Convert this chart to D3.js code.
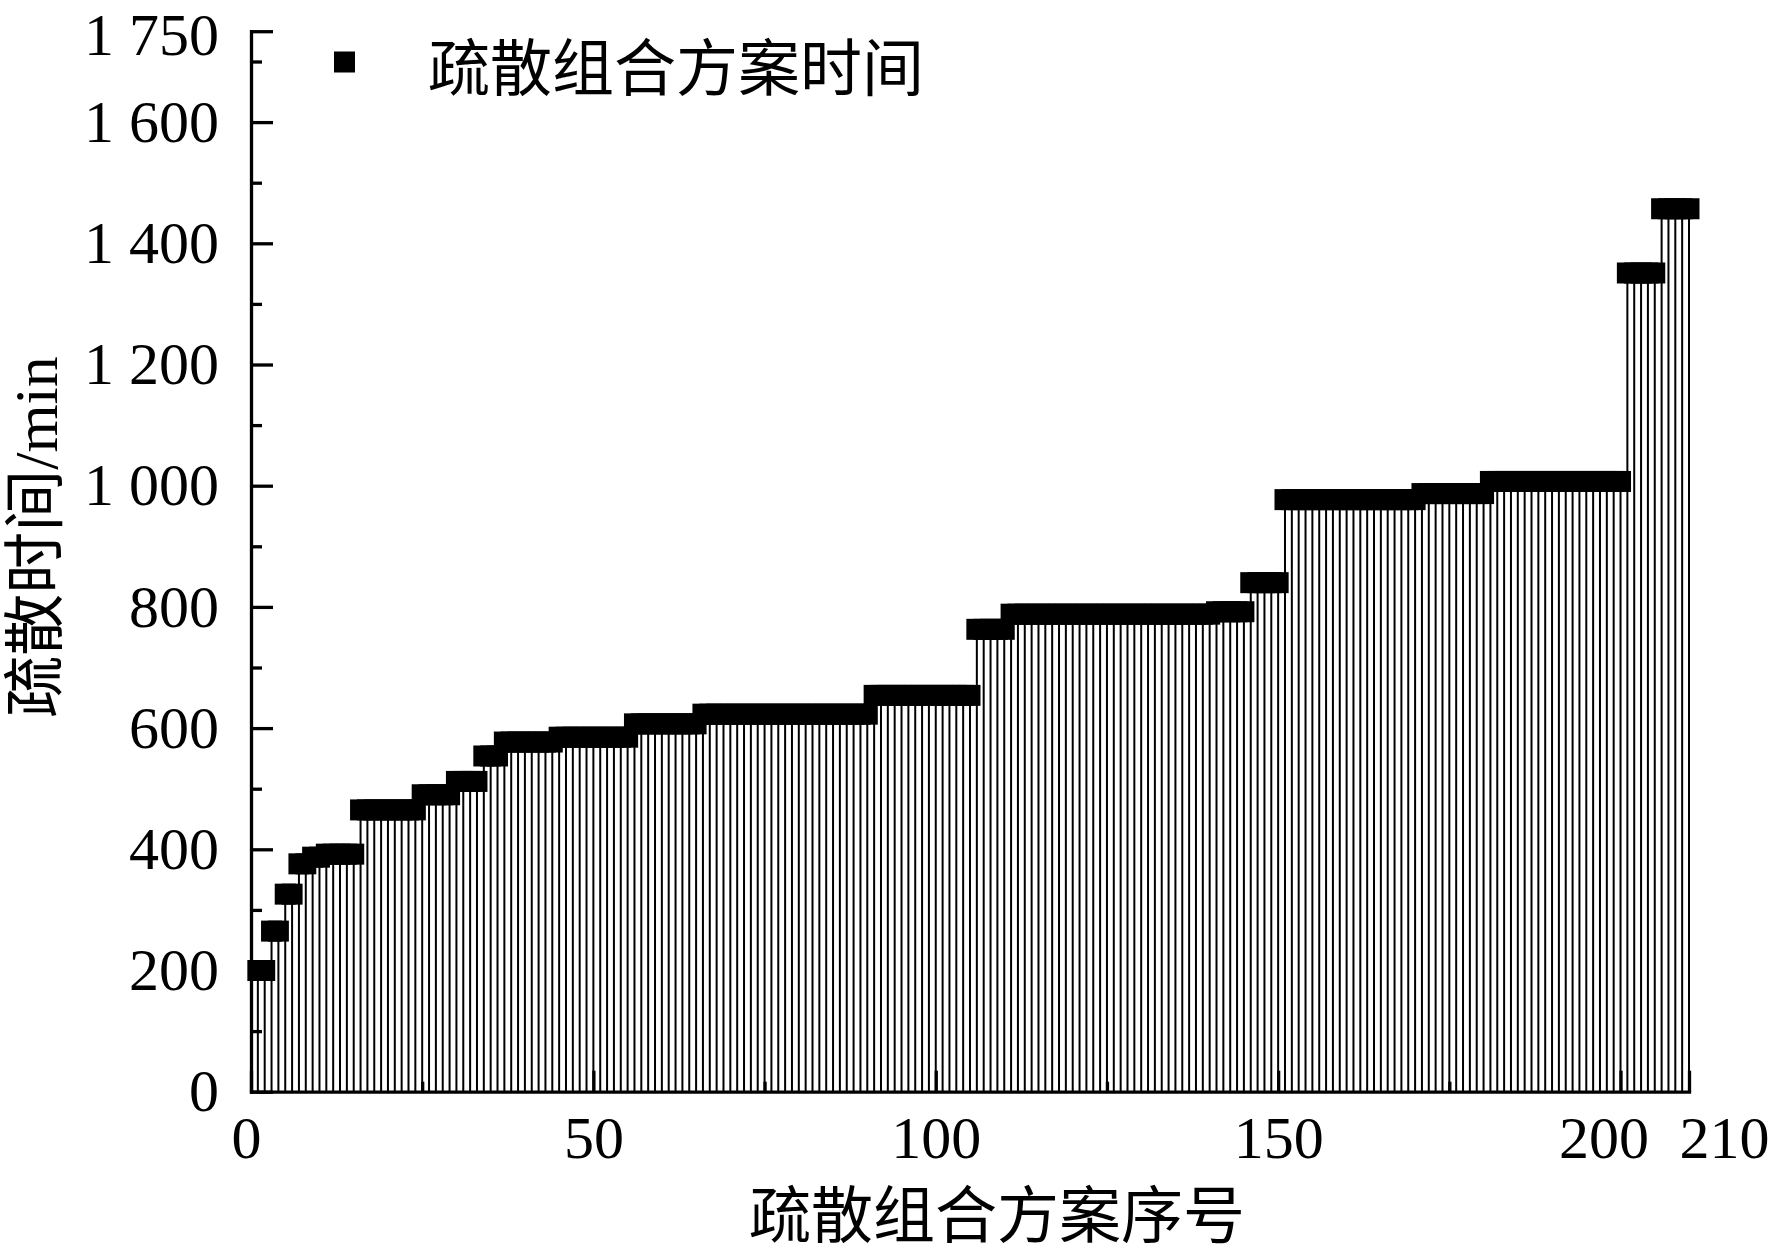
<!DOCTYPE html>
<html>
<head>
<meta charset="utf-8">
<script src="https://cdn.jsdelivr.net/npm/d3@7/dist/d3.min.js"></script>
<style>
  html, body { margin: 0; padding: 0; background: #fff; }
  svg { display: block; }
  text { fill: #000; }
</style>
</head>
<body>
<svg id="chart" width="1772" height="1254"></svg>
<script>
// ---- data ----
const seriesName = "疏散组合方案时间";
const xTitle = "疏散组合方案序号";
const yTitle = "疏散时间/min";

// evacuation time (min) for combination schemes 1..210
const times = [
  200,200,265,265,326,326,376,376,387,387,
  392,392,392,392,392,465,465,465,465,465,
  465,465,465,465,490,490,490,490,490,512,
  512,512,512,554,554,554,577,577,577,577,
  577,577,577,577,585,585,585,585,585,585,
  585,585,585,585,585,607,607,607,607,607,
  607,607,607,607,607,623,623,623,623,623,
  623,623,623,623,623,623,623,623,623,623,
  623,623,623,623,623,623,623,623,623,623,
  654,654,654,654,654,654,654,654,654,654,
  654,654,654,654,654,763,763,763,763,763,
  788,788,788,788,788,788,788,788,788,788,
  788,788,788,788,788,788,788,788,788,788,
  788,788,788,788,788,788,788,788,788,788,
  792,792,792,792,792,840,840,840,840,840,
  977,977,977,977,977,977,977,977,977,977,
  977,977,977,977,977,977,977,977,977,977,
  987,987,987,987,987,987,987,987,987,987,
  1007,1007,1007,1007,1007,1007,1007,1007,1007,1007,
  1007,1007,1007,1007,1007,1007,1007,1007,1007,1007,
  1351,1351,1351,1351,1351,1457,1457,1457,1457,1457
];
const schemeIds = times.map((v, i) => i + 1);

const xMajorTicks = [0, 50, 100, 150, 200, 210];
const xMinorTicks = [25, 75, 125, 175];
const yMajorTicks = [0, 200, 400, 600, 800, 1000, 1200, 1400, 1600, 1750];
const yMajorLabels = ["0", "200", "400", "600", "800", "1 000", "1 200", "1 400", "1 600", "1 750"];
const yMinorTicks = [100, 300, 500, 700, 900, 1100, 1300, 1500, 1700];
const xLabelShift = {0: -5, 200: -17, 210: 35};

// ---- layout ----
const svg = d3.select("#chart");
const x = d3.scaleLinear().domain([0, 210]).range([251, 1689]);
const y = d3.scaleLinear().domain([0, 1750]).range([1091.7, 31.2]);
const numFont = "'Liberation Serif', 'Times New Roman', serif";
const cjkFont = "'Liberation Serif', 'Noto Sans CJK SC', serif";
const markerSize = 21;

const data = schemeIds.map((id, i) => ({ id, t: times[i] }));

// drop lines
svg.append("g").selectAll("line").data(data).join("line")
  .attr("x1", d => x(d.id)).attr("x2", d => x(d.id))
  .attr("y1", y(0)).attr("y2", d => y(d.t))
  .attr("stroke", "#000").attr("stroke-width", 2);

// square markers
svg.append("g").selectAll("rect").data(data).join("rect")
  .attr("x", d => x(d.id) - markerSize / 2)
  .attr("y", d => y(d.t) - markerSize / 2)
  .attr("width", markerSize).attr("height", markerSize)
  .attr("fill", "#000");

// x axis
const xAxis = svg.append("g").attr("transform", `translate(0,${y(0)})`)
  .call(d3.axisBottom(x).tickValues(xMajorTicks).tickSizeInner(-21).tickSizeOuter(0)
    .tickPadding(24).tickFormat(d3.format("d")));
xAxis.selectAll("text")
  .attr("font-family", numFont).attr("font-size", 60)
  .attr("dx", d => xLabelShift[d] || 0);
svg.append("g").attr("transform", `translate(0,${y(0)})`)
  .call(d3.axisBottom(x).tickValues(xMinorTicks).tickSizeInner(-10).tickSizeOuter(0).tickFormat(""))
  .call(g => g.select(".domain").remove());

// y axis
const yAxis = svg.append("g").attr("transform", `translate(${x(0)},0)`)
  .call(d3.axisLeft(y).tickValues(yMajorTicks).tickSizeInner(-22).tickSizeOuter(0)
    .tickPadding(32).tickFormat((d, i) => yMajorLabels[i]));
yAxis.selectAll("text").attr("font-family", numFont).attr("font-size", 60);
yAxis.selectAll(".tick").filter(d => d === 1750).select("text").attr("dy", 23);
svg.append("g").attr("transform", `translate(${x(0)},0)`)
  .call(d3.axisLeft(y).tickValues(yMinorTicks).tickSizeInner(-11).tickSizeOuter(0).tickFormat(""))
  .call(g => g.select(".domain").remove());

svg.selectAll(".domain, .tick line").attr("stroke", "#000").attr("stroke-width", 3.3);
svg.selectAll(".domain").attr("stroke-linecap", "square");

// legend
svg.append("rect").attr("x", 334).attr("y", 51.5).attr("width", 21).attr("height", 21).attr("fill", "#000");
svg.append("text").attr("x", 428).attr("y", 91).attr("font-family", cjkFont).attr("font-size", 62)
  .text(seriesName);

// axis titles
svg.append("text").attr("x", 997).attr("y", 1238).attr("text-anchor", "middle")
  .attr("font-family", cjkFont).attr("font-size", 62).text(xTitle);
svg.append("text").attr("transform", "translate(57,537) rotate(-90)").attr("text-anchor", "middle")
  .attr("font-family", cjkFont).attr("font-size", 62).text(yTitle);
</script>
</body>
</html>
